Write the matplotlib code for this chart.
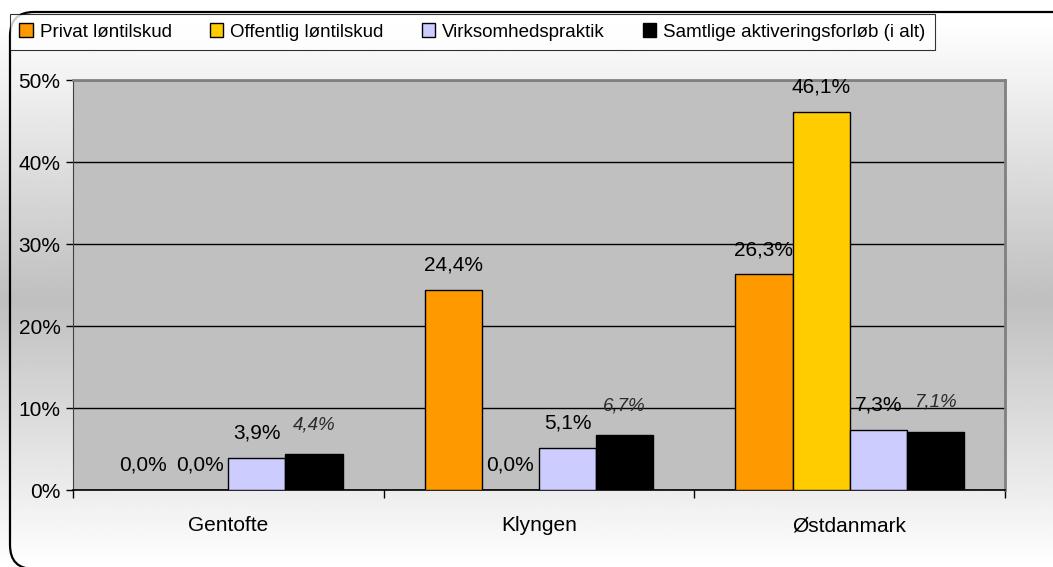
import numpy as np
import matplotlib
matplotlib.use("Agg")
import matplotlib.pyplot as plt
import matplotlib.transforms as mtransforms
from matplotlib.patches import FancyBboxPatch
from matplotlib.ticker import FuncFormatter

plt.rcParams["font.family"] = ["Liberation Sans", "DejaVu Sans"]

# data (andel i procent)
kategorier = ["Gentofte", "Klyngen", "Østdanmark"]
serier = ["Privat løntilskud", "Offentlig løntilskud", "Virksomhedspraktik",
          "Samtlige aktiveringsforløb (i alt)"]
privat = [0.0, 24.4, 26.3]
offentlig = [0.0, 0.0, 46.1]
praktik = [3.9, 5.1, 7.3]
samtlige = [4.4, 6.7, 7.1]
farver = ["#FF9900", "#FFCC00", "#CCCCFF", "#000000"]

fig = plt.figure(figsize=(10.53, 5.67), dpi=100)

# baggrund med lodret gradient
bg = fig.add_axes([0, 0, 1, 1], zorder=-10)
yy = np.linspace(0, 567, 400)
g = np.interp(yy, [0, 20, 300, 567], [1.0, 1.0, 0.75, 1.0])
bg.imshow(np.repeat(g[:, None], 2, axis=1), cmap="gray", vmin=0, vmax=1,
          aspect="auto", extent=[0, 1, 0, 1], origin="upper")
bg.axis("off")

# afrundet ramme
ramme = FancyBboxPatch((10, -2), 1070, 557, boxstyle="round,pad=0,rounding_size=24",
                       transform=mtransforms.IdentityTransform(),
                       facecolor="none", edgecolor="black", linewidth=1.6, zorder=5)
fig.patches.append(ramme)

ax = fig.add_axes([73 / 1053, 77 / 567, 932 / 1053, 410 / 567])
ax.set_facecolor("#C0C0C0")

x = np.arange(len(kategorier))
w = 0.184
data = [privat, offentlig, praktik, samtlige]
bars = []
fmt = lambda v: f"{v:.1f}%".replace(".", ",")
for i, (navn, vals, c) in enumerate(zip(serier, data, farver)):
    b = ax.bar(x + (i - 1.5) * w, vals, w, color=c, edgecolor="black",
               linewidth=1.0, label=navn, zorder=3)
    bars.append(b)
    if i == 3:
        ax.bar_label(b, labels=[fmt(v) for v in vals], padding=15, fontsize=13.5,
                     style="italic", color="#2a2a2a")
    else:
        ax.bar_label(b, labels=[fmt(v) for v in vals], padding=11, fontsize=15)

ax.set_xlim(-0.5, 2.5)
ax.set_ylim(0, 50)
ax.set_yticks([0, 10, 20, 30, 40, 50])
ax.yaxis.set_major_formatter(FuncFormatter(lambda v, p: f"{v:.0f}%"))
ax.yaxis.grid(True, color="black", linewidth=1.0)
ax.set_axisbelow(True)
ax.tick_params(axis="y", length=5, width=1, pad=4, labelsize=15)

ax.set_xticks(x)
ax.set_xticklabels(kategorier, fontsize=15)
ax.set_xticks([-0.5, 0.5, 1.5, 2.5], minor=True)
ax.tick_params(axis="x", which="major", length=0, pad=19)
ax.tick_params(axis="x", which="minor", length=6, width=1)

for s in ["top", "right"]:
    ax.spines[s].set_color("#808080")
    ax.spines[s].set_linewidth(2)
ax.spines["left"].set_color("#404040")
ax.spines["bottom"].set_color("black")
ax.spines["bottom"].set_linewidth(1.2)

leg = fig.legend(handles=bars, loc="lower left", ncol=4, mode="expand",
                 bbox_to_anchor=(10 / 1053, 1 - 50 / 567, 925 / 1053, 38 / 567),
                 fontsize=13.5, frameon=True, fancybox=False, edgecolor="black",
                 handlelength=0.7, handleheight=0.8, handletextpad=0.4,
                 borderaxespad=0, borderpad=0.5)
leg.get_frame().set_linewidth(0.8)
leg.get_frame().set_facecolor("white")
leg._legend_box.align = "left"

fig.savefig("out.png", dpi=100)
